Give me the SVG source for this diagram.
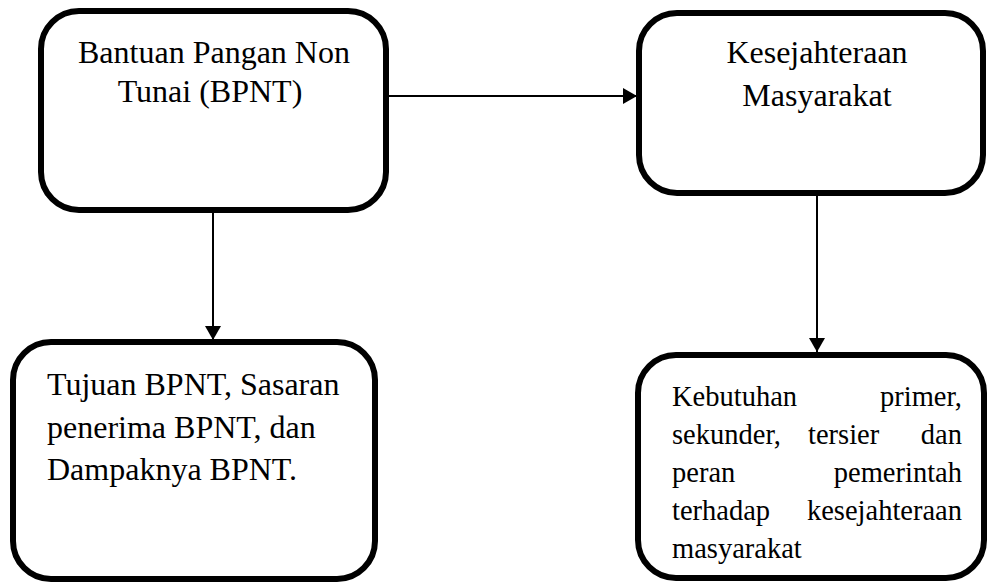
<svg xmlns="http://www.w3.org/2000/svg" width="987" height="583" viewBox="0 0 987 583">
<style>
.box{fill:#fff;stroke:#000;stroke-width:6}
.t{font-family:"Liberation Serif","Times New Roman",serif;font-size:32px;fill:#000}
.s{font-family:"Liberation Serif","Times New Roman",serif;font-size:28.5px;fill:#000}
.c{text-anchor:middle}
.e{text-anchor:end}
.conn{stroke:#000;stroke-width:2;fill:none}
</style>
<defs>
<marker id="ah" markerUnits="userSpaceOnUse" markerWidth="14" markerHeight="16" refX="14" refY="8" orient="auto">
<path d="M0,0 L14,8 L0,16 Z" fill="#000"/>
</marker>
</defs>
<g id="connectors">
<path class="conn" d="M386,96 L637,96" marker-end="url(#ah)"/>
<path class="conn" d="M213,210 L213,340" marker-end="url(#ah)"/>
<path class="conn" d="M817,193 L817,352" marker-end="url(#ah)"/>
</g>
<g id="bpnt">
<rect class="box" x="41" y="11" width="345" height="199" rx="38"/>
<text class="t c" x="214" y="63">Bantuan Pangan Non</text>
<text class="t c" x="210" y="102">Tunai (BPNT)</text>
</g>
<g id="kesejahteraan">
<rect class="box" x="639" y="13" width="344" height="180" rx="38"/>
<text class="t c" x="817" y="63">Kesejahteraan</text>
<text class="t c" x="817" y="106">Masyarakat</text>
</g>
<g id="tujuan">
<rect class="box" x="13" y="342" width="362" height="237" rx="38"/>
<text class="t" x="47" y="395">Tujuan BPNT, Sasaran</text>
<text class="t" x="47" y="438">penerima BPNT, dan</text>
<text class="t" x="47" y="480">Dampaknya BPNT.</text>
</g>
<g id="kebutuhan">
<rect class="box" x="638" y="355" width="346" height="223" rx="38"/>
<text class="s" x="672" y="406">Kebutuhan</text>
<text class="s e" x="962" y="406">primer,</text>
<text class="s" x="672" y="444">sekunder,</text>
<text class="s" x="808" y="444">tersier</text>
<text class="s e" x="962" y="444">dan</text>
<text class="s" x="672" y="482">peran</text>
<text class="s e" x="962" y="482">pemerintah</text>
<text class="s" x="672" y="520">terhadap</text>
<text class="s e" x="962" y="520">kesejahteraan</text>
<text class="s" x="672" y="558">masyarakat</text>
</g>
</svg>
